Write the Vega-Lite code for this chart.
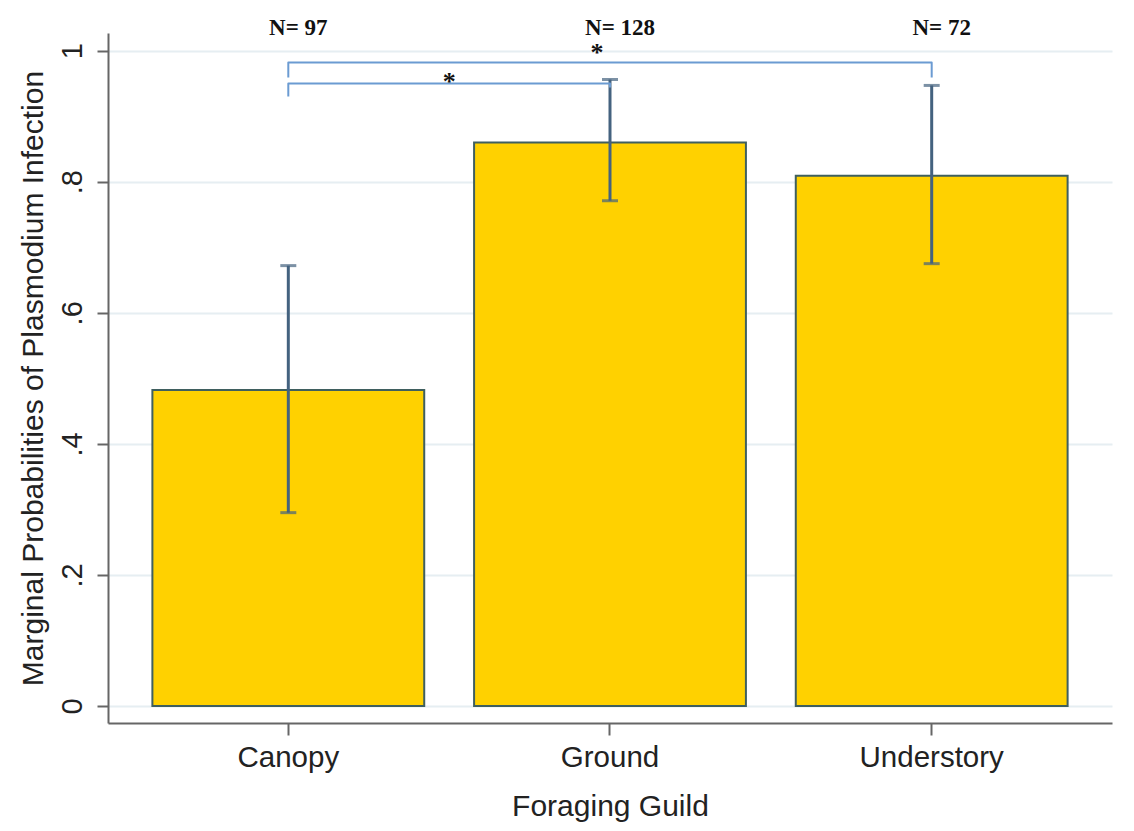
{
  "$schema": "https://vega.github.io/schema/vega-lite/v6.json",
  "autosize": "none",
  "width": 1004,
  "height": 690,
  "padding": {"left": 108, "top": 33, "right": 22, "bottom": 108},
  "background": "white",
  "config": {"view": {"stroke": null}, "font": "Liberation Sans"},
  "datasets": {
    "main": [
      {"guild": "Canopy", "p": 0.482, "lo": 0.295, "hi": 0.672, "n": "N= 97"},
      {"guild": "Ground", "p": 0.860, "lo": 0.771, "hi": 0.956, "n": "N= 128"},
      {"guild": "Understory", "p": 0.809, "lo": 0.675, "hi": 0.947, "n": "N= 72"}
    ],
    "brackets": [
      {"pair": "Canopy-Ground", "i": 0, "guild": "Canopy", "v": 0.930},
      {"pair": "Canopy-Ground", "i": 1, "guild": "Canopy", "v": 0.950},
      {"pair": "Canopy-Ground", "i": 2, "guild": "Ground", "v": 0.950},
      {"pair": "Canopy-Ground", "i": 3, "guild": "Ground", "v": 0.944},
      {"pair": "Canopy-Understory", "i": 0, "guild": "Canopy", "v": 0.959},
      {"pair": "Canopy-Understory", "i": 1, "guild": "Canopy", "v": 0.982},
      {"pair": "Canopy-Understory", "i": 2, "guild": "Understory", "v": 0.982},
      {"pair": "Canopy-Understory", "i": 3, "guild": "Understory", "v": 0.959}
    ],
    "star1": [{"guild": "Canopy", "s": "*"}],
    "star2": [{"guild": "Ground", "s": "*"}]
  },
  "layer": [
    {
      "data": {"name": "main"},
      "mark": {"type": "bar", "fill": "#FFD100", "stroke": "#3f5f5f", "strokeWidth": 2},
      "encoding": {
        "x": {
          "field": "guild", "type": "nominal",
          "sort": ["Canopy", "Ground", "Understory"],
          "scale": {"paddingInner": 0.155, "paddingOuter": 0.138},
          "axis": {
            "title": "Foraging Guild", "titleFontSize": 30, "titleFontWeight": "normal",
            "titleColor": "#222222", "titlePadding": 20,
            "labelAngle": 0, "labelFontSize": 29.5, "labelColor": "#222222", "labelPadding": 8,
            "tickSize": 12, "tickWidth": 2, "tickColor": "#666666",
            "domainColor": "#666666", "domainWidth": 2, "grid": false
          }
        },
        "y": {
          "field": "p", "type": "quantitative",
          "scale": {"domain": [-0.026, 1.027], "nice": false, "zero": false},
          "axis": {
            "title": "Marginal Probabilities of Plasmodium Infection",
            "titleFontSize": 30, "titleFontWeight": "normal", "titleColor": "#222222", "titlePadding": 10,
            "values": [0, 0.2, 0.4, 0.6, 0.8, 1],
            "labelExpr": "replace(format(datum.value, '.1~f'), '0.', '.')",
            "labelAngle": -90, "labelAlign": "center", "labelBaseline": "bottom",
            "labelFontSize": 29, "labelColor": "#222222", "labelPadding": 10,
            "tickSize": 11, "tickWidth": 2, "tickColor": "#666666",
            "domainColor": "#666666", "domainWidth": 2,
            "grid": true, "gridColor": "#e6eef2", "gridWidth": 2
          }
        },
        "y2": {"datum": 0}
      }
    },
    {
      "data": {"name": "main"},
      "mark": {"type": "rule", "color": "#44627f", "strokeWidth": 3},
      "encoding": {
        "x": {"field": "guild", "type": "nominal", "sort": ["Canopy", "Ground", "Understory"]},
        "y": {"field": "lo", "type": "quantitative"},
        "y2": {"field": "hi"}
      }
    },
    {
      "data": {"name": "main"},
      "mark": {"type": "tick", "color": "#44627f", "size": 16, "thickness": 3},
      "encoding": {
        "x": {"field": "guild", "type": "nominal", "sort": ["Canopy", "Ground", "Understory"]},
        "y": {"field": "lo", "type": "quantitative"}
      }
    },
    {
      "data": {"name": "main"},
      "mark": {"type": "tick", "color": "#44627f", "size": 16, "thickness": 3},
      "encoding": {
        "x": {"field": "guild", "type": "nominal", "sort": ["Canopy", "Ground", "Understory"]},
        "y": {"field": "hi", "type": "quantitative"}
      }
    },
    {
      "data": {"name": "brackets"},
      "mark": {"type": "line", "color": "#6b9bd2", "strokeWidth": 2, "strokeJoin": "round"},
      "encoding": {
        "x": {"field": "guild", "type": "nominal", "sort": ["Canopy", "Ground", "Understory"]},
        "y": {"field": "v", "type": "quantitative"},
        "detail": {"field": "pair"},
        "order": {"field": "i", "type": "quantitative"}
      }
    },
    {
      "data": {"name": "main"},
      "mark": {"type": "text", "font": "Liberation Serif", "fontWeight": "bold", "fontSize": 23, "color": "#111111", "baseline": "middle", "dx": 10},
      "encoding": {
        "x": {"field": "guild", "type": "nominal", "sort": ["Canopy", "Ground", "Understory"]},
        "y": {"datum": 1.035},
        "text": {"field": "n"}
      }
    },
    {
      "data": {"name": "star1"},
      "mark": {"type": "text", "font": "Liberation Serif", "fontWeight": "bold", "fontSize": 26, "color": "#111111", "baseline": "alphabetic", "dx": 161},
      "encoding": {
        "x": {"field": "guild", "type": "nominal", "sort": ["Canopy", "Ground", "Understory"]},
        "y": {"datum": 0.94},
        "text": {"field": "s"}
      }
    },
    {
      "data": {"name": "star2"},
      "mark": {"type": "text", "font": "Liberation Serif", "fontWeight": "bold", "fontSize": 26, "color": "#111111", "baseline": "alphabetic", "dx": -13},
      "encoding": {
        "x": {"field": "guild", "type": "nominal", "sort": ["Canopy", "Ground", "Understory"]},
        "y": {"datum": 0.984},
        "text": {"field": "s"}
      }
    }
  ]
}
